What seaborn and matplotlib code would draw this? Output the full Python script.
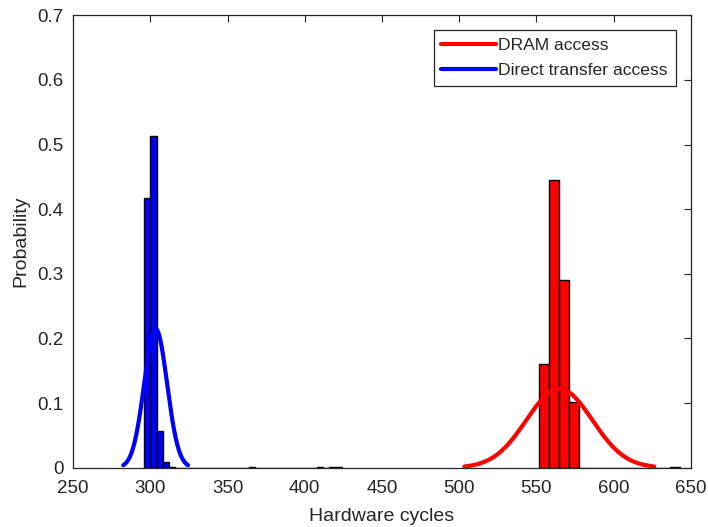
import numpy as np
import pandas as pd
import matplotlib
matplotlib.use("Agg")
import matplotlib.pyplot as plt
from matplotlib.ticker import FuncFormatter
import seaborn as sns

# Latency histograms (probability of each bin)
dram_bin_left = [551.9, 558.4, 564.9, 571.4, 636.4]
dram_prob = [0.160, 0.445, 0.290, 0.102, 0.0018]
dram_bin_width = 6.5

direct_bin_left = [296, 300, 304, 308, 312, 364, 408, 416, 420]
direct_prob = [0.417, 0.513, 0.057, 0.0083, 0.0015, 0.0012, 0.0012, 0.0012, 0.0012]
direct_bin_width = 4.0

# Normal fits drawn over each histogram: mean, std, peak height, half span
dram_fit = dict(mean=564.9, sd=21.3, peak=0.122, span=61.5)
direct_fit = dict(mean=303.4, sd=7.4, peak=0.215, span=21.0)

x_ticks = [250, 300, 350, 400, 450, 500, 550, 600, 650]
y_ticks = [0, 0.1, 0.2, 0.3, 0.4, 0.5, 0.6, 0.7]

RED = "#ff0000"
BLUE = "#0000ff"
INK = "#262626"

sns.set_theme(style="white")
plt.rcParams.update({
    "font.family": ["Liberation Sans", "DejaVu Sans"],
    "axes.edgecolor": INK,
    "axes.linewidth": 0.9,
    "text.color": INK,
    "axes.labelcolor": INK,
    "xtick.color": INK,
    "ytick.color": INK,
})


def hist_frame(lefts, probs, width):
    centers = [l + width / 2 for l in lefts]
    n = int(round((lefts[-1] - lefts[0]) / width)) + 1
    brange = (lefts[0], lefts[0] + n * width)
    return pd.DataFrame({"x": centers, "p": probs}), brange


def fit_frame(fit):
    xs = np.linspace(fit["mean"] - fit["span"], fit["mean"] + fit["span"], 200)
    ys = fit["peak"] * np.exp(-0.5 * ((xs - fit["mean"]) / fit["sd"]) ** 2)
    return pd.DataFrame({"x": xs, "y": ys})


fig = plt.figure(figsize=(7.08, 5.27), dpi=100)
ax = fig.add_axes([0.1034, 0.1125, 0.9756 - 0.1034, 0.9710 - 0.1125])

dram_df, dram_range = hist_frame(dram_bin_left, dram_prob, dram_bin_width)
direct_df, direct_range = hist_frame(direct_bin_left, direct_prob, direct_bin_width)

sns.histplot(data=dram_df, x="x", weights="p", binwidth=dram_bin_width,
             binrange=dram_range, color=RED, alpha=1, edgecolor="black",
             linewidth=1.0, ax=ax, zorder=2)
sns.histplot(data=direct_df, x="x", weights="p", binwidth=direct_bin_width,
             binrange=direct_range, color=BLUE, alpha=1, edgecolor="black",
             linewidth=1.0, ax=ax, zorder=2)

sns.lineplot(data=fit_frame(dram_fit), x="x", y="y", color=RED, linewidth=3.0,
             label="DRAM access", ax=ax, zorder=3, solid_capstyle="round")
sns.lineplot(data=fit_frame(direct_fit), x="x", y="y", color=BLUE, linewidth=3.0,
             label="Direct transfer access", ax=ax, zorder=3, solid_capstyle="round")

ax.set_xlim(250, 650)
ax.set_ylim(0, 0.7)
ax.set_xticks(x_ticks)
ax.set_yticks(y_ticks)
ax.yaxis.set_major_formatter(FuncFormatter(lambda v, _: f"{v:g}"))
ax.tick_params(axis="both", which="major", direction="in", length=5, width=0.8,
               top=True, right=True, labelsize=13.5)
ax.tick_params(axis="x", pad=8.5)
ax.tick_params(axis="y", pad=7)
ax.set_xlabel("Hardware cycles", fontsize=14, labelpad=8)
ax.set_ylabel("Probability", fontsize=14, labelpad=6)
ax.grid(False)

leg = ax.legend(loc="upper right", bbox_to_anchor=(0.9757, 0.9668), fontsize=12.6,
                frameon=True, fancybox=False, framealpha=1, edgecolor=INK,
                handlelength=3.1, handletextpad=0.15, labelspacing=0.56,
                borderpad=0.45, borderaxespad=0.0)
leg.get_frame().set_linewidth(0.9)
for line in leg.get_lines():
    line.set_linewidth(3.0)

fig.savefig("out.png", dpi=100)
